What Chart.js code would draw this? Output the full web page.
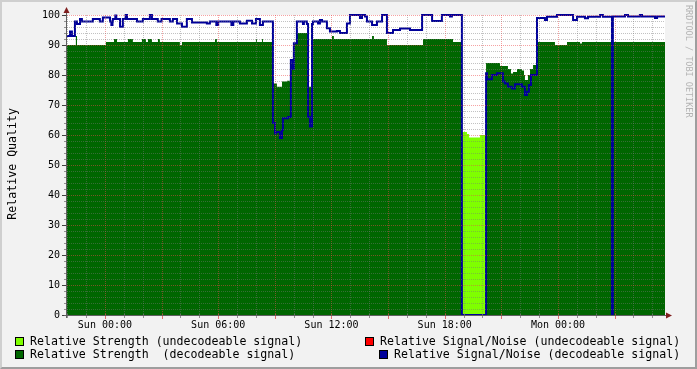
<!DOCTYPE html>
<html>
<head>
<meta charset="utf-8">
<script src="https://cdn.jsdelivr.net/npm/chart.js@4.4.1/dist/chart.umd.min.js"></script>
<style>
  body { margin: 0; }
  #wrap { position: relative; width: 697px; height: 369px; background: #f2f2f2; overflow: hidden;
          font-family: "DejaVu Sans Mono", monospace; color: #000; }
  #frame { position: absolute; left: 0; top: 0; width: 697px; height: 369px; box-sizing: border-box;
           border-style: solid; border-width: 2px; border-color: #cfcfcf #9e9e9e #9e9e9e #cfcfcf; pointer-events: none; }
  canvas { position: absolute; left: 0; top: 0; }
  .txt { position: absolute; font-size: 11.6px; line-height: 14px; white-space: pre; }
  .box { position: absolute; width: 7px; height: 7px; border: 1px solid #000; }
  #ytitle { position: absolute; left: 5px; top: 108px; font-size: 11.6px; line-height: 14px; white-space: pre;
            writing-mode: vertical-rl; transform: rotate(180deg); }
  #mark { position: absolute; left: 684px; top: 5px; font-size: 8.5px; line-height: 10px; white-space: pre;
          writing-mode: vertical-rl; color: #b4b4b4; }
</style>
</head>
<body>
<div id="wrap">
  <canvas id="chart" width="697" height="369"></canvas>
  <div id="ytitle">Relative Quality</div>
  <div id="mark">RRDTOOL / TOBI OETIKER</div>
  <div class="box" style="left:15px;top:337px;background:#7fff00"></div>
  <div class="txt" style="left:30px;top:334px">Relative Strength (undecodeable signal)</div>
  <div class="box" style="left:15px;top:350px;background:#006600"></div>
  <div class="txt" style="left:30px;top:347px">Relative Strength  (decodeable signal)</div>
  <div class="box" style="left:365px;top:337px;background:#ff0000"></div>
  <div class="txt" style="left:380px;top:334px">Relative Signal/Noise (undecodeable signal)</div>
  <div class="box" style="left:379px;top:350px;background:#000099"></div>
  <div class="txt" style="left:394px;top:347px">Relative Signal/Noise (decodeable signal)</div>
  <div id="frame"></div>
</div>
<script>
// time axis in hours, 0 = Sun 00:00
var xMin = -2.01, xMax = 29.67;
var xTickValues = [0, 6, 12, 18, 24];
var xTickLabels = ['Sun 00:00', 'Sun 06:00', 'Sun 12:00', 'Sun 18:00', 'Mon 00:00'];
var yTickValues = [0, 10, 20, 30, 40, 50, 60, 70, 80, 90, 100];

// relative strength, undecodeable signal (only shows during the outage)
var weakTimes  = [-2.01, 18.91, 19.18, 19.29, 19.87, 20.19, 29.67];
var weakValues = [0, 61, 60.3, 59.2, 60, 0, 0];

// relative strength, decodeable signal
var strongTimes = [-2.01, -1.54, -1.48, 0.05, 0.48, 0.64, 1.22, 1.48, 1.96, 2.17, 2.28, 2.49, 2.81, 2.91,
  3.97, 4.08, 5.83, 5.93, 8.00, 8.05, 8.32, 8.37, 8.90, 9.11, 9.38, 9.64, 9.85, 9.96, 10.01, 10.17,
  10.76, 10.97, 12.03, 12.13, 14.15, 14.25, 14.94, 16.85, 18.44, 18.91, 20.19, 20.93, 21.35, 21.51,
  21.62, 21.83, 22.09, 22.20, 22.25, 22.41, 22.52, 22.68, 22.89, 23.84, 24.48, 25.17, 25.27, 29.67];
var strongValues = [90, 93, 90, 91, 92, 91, 92, 91, 92, 91, 92, 91, 92, 91,
  90, 91, 92, 91, 92, 91, 92, 91, 77.2, 76.1, 77.8, 78.1, 84, 88, 90.6, 94,
  76.1, 92, 93, 92, 93, 92, 90, 92, 91, 0, 84, 83, 82, 80.5,
  81, 82, 81.5, 80, 78.3, 80, 82, 83.3, 91, 90, 91, 90.5, 91, 91];

// relative signal/noise, undecodeable signal (no samples in this period)
var snrWeakTimes  = [];
var snrWeakValues = [];

// relative signal/noise, decodeable signal
var snrTimes = [-2.01, -1.85, -1.75, -1.59, -1.48, -1.32, -1.22, -0.64, -0.27, -0.11, 0.27, 0.34, 0.40, 0.42,
  0.55, 0.60, 0.80, 0.95, 1.10, 1.17, 1.70, 2.01, 2.38, 2.49, 2.80, 3.00, 3.44, 3.60, 3.82, 4.08, 4.34,
  4.61, 5.40, 5.56, 5.90, 6.00, 6.70, 6.80, 7.15, 7.52, 7.79, 8.00, 8.21, 8.37, 8.90, 9.01, 9.06, 9.27,
  9.38, 9.43, 9.70, 9.85, 9.96, 10.01, 10.17, 10.49, 10.54, 10.70, 10.76, 10.86, 10.97, 11.02, 11.29,
  11.39, 11.50, 11.76, 11.92, 12.29, 12.45, 12.82, 12.98, 13.51, 13.62, 13.78, 13.88, 14.15, 14.41,
  14.68, 14.94, 15.26, 15.63, 16.16, 16.80, 17.33, 17.85, 18.28, 18.38, 18.91, 20.19, 20.24, 20.50,
  20.77, 21.09, 21.19, 21.35, 21.56, 21.72, 22.09, 22.25, 22.36, 22.46, 22.57, 22.89, 23.31, 23.42,
  23.95, 24.80, 25.01, 25.43, 25.59, 26.23, 26.38, 26.86, 26.91, 27.55, 27.71, 28.34, 28.45, 29.14,
  29.25, 29.67];
var snrValues = [93, 94.5, 93, 97.8, 97, 98.7, 97.8, 98.7, 97.8, 99.2, 97.8, 96.7, 97.8, 98.7,
  99.8, 98.7, 96.1, 98.7, 100, 98.7, 97.8, 98.7, 100, 98.7, 97.8, 98.7, 97.8, 98.7, 97.2, 96.1, 98.7,
  97.5, 97.2, 97.8, 96.7, 97.8, 96.7, 97.8, 97.2, 98.1, 97.2, 98.7, 96.7, 97.8, 64, 60.5, 61, 59,
  61.7, 65.6, 66, 85, 82, 90.6, 97.8, 97, 97.8, 97, 66, 62.8, 97, 97.8, 97.2,
  98.3, 97.8, 95.6, 94.5, 94.7, 94, 97.2, 100, 99, 100, 99.5, 97.8, 96.7, 97.8,
  100, 94, 95, 95.5, 95, 100, 98, 100, 99.5, 100, 0, 80.6, 78.6, 80,
  80.6, 77.8, 77.2, 76.1, 75.5, 76.9, 76.1, 73.3, 74.4, 76.7, 80, 99, 98.3, 99.4,
  100, 98.3, 99.4, 98.9, 99.4, 100, 99.4, 0, 99.5, 100, 99.5, 100, 99.5, 99,
  99.5, 99.5];

// each value holds from its time until the next sample
function pts(t, v) {
  var out = [];
  for (var i = 0; i < t.length; i++) {
    out.push({ x: t[i], y: v[i] });
  }
  return out;
}

var MINOR = 'rgba(120,120,120,0.45)';
var MAJOR = 'rgba(235,70,70,0.5)';

var rrdLook = {
  id: 'rrdLook',
  beforeDraw: function (chart) {
    var a = chart.chartArea, ctx = chart.ctx;
    ctx.save();
    ctx.fillStyle = '#ffffff';
    ctx.fillRect(a.left, a.top, a.right - a.left, a.bottom - a.top);
    ctx.restore();
  },
  afterDatasetsDraw: function (chart) {
    var a = chart.chartArea, ctx = chart.ctx, xs = chart.scales.x, ys = chart.scales.y;
    ctx.save();
    ctx.lineWidth = 1;
    ctx.setLineDash([1, 1]);
    for (var h = Math.ceil(xs.min); h <= xs.max; h++) {
      var px = Math.round(xs.getPixelForValue(h)) + 0.5;
      ctx.strokeStyle = (h % 3 === 0) ? MAJOR : MINOR;
      ctx.beginPath(); ctx.moveTo(px, a.top); ctx.lineTo(px, a.bottom); ctx.stroke();
    }
    for (var v = 2; v <= 100; v += 2) {
      var py = Math.round(ys.getPixelForValue(v)) + 0.5;
      ctx.strokeStyle = (v % 10 === 0) ? MAJOR : MINOR;
      ctx.beginPath(); ctx.moveTo(a.left, py); ctx.lineTo(a.right, py); ctx.stroke();
    }
    ctx.restore();
  },
  afterDraw: function (chart) {
    var a = chart.chartArea, ctx = chart.ctx, xs = chart.scales.x, ys = chart.scales.y;
    ctx.save();
    ctx.lineWidth = 1;
    // tick marks
    for (var h = Math.ceil(xs.min); h <= xs.max; h++) {
      var px = Math.round(xs.getPixelForValue(h)) + 0.5;
      ctx.strokeStyle = (h % 3 === 0) ? 'rgba(222,79,79,0.8)' : 'rgba(120,120,120,0.8)';
      ctx.beginPath(); ctx.moveTo(px, a.bottom - 1); ctx.lineTo(px, a.bottom + (h % 3 === 0 ? 4 : 3)); ctx.stroke();
    }
    for (var v = 0; v <= 100; v += 2) {
      var py = Math.round(ys.getPixelForValue(v)) + 0.5;
      ctx.strokeStyle = (v % 10 === 0) ? '#404040' : 'rgba(120,120,120,0.8)';
      ctx.beginPath(); ctx.moveTo(a.left - (v % 10 === 0 ? 5 : 3), py); ctx.lineTo(a.left, py); ctx.stroke();
    }
    // axes
    ctx.strokeStyle = '#606060';
    ctx.beginPath();
    ctx.moveTo(a.left - 0.5, a.bottom + 3); ctx.lineTo(a.left - 0.5, a.top - 5);
    ctx.moveTo(a.left - 3, a.bottom + 0.5); ctx.lineTo(a.right + 3, a.bottom + 0.5);
    ctx.stroke();
    // arrows
    ctx.fillStyle = '#801f1f';
    ctx.beginPath();
    ctx.moveTo(a.left - 0.5, a.top - 8); ctx.lineTo(a.left - 3.5, a.top - 2); ctx.lineTo(a.left + 2.5, a.top - 2);
    ctx.closePath(); ctx.fill();
    ctx.beginPath();
    ctx.moveTo(a.right + 7, a.bottom + 0.5); ctx.lineTo(a.right + 1, a.bottom - 2.5); ctx.lineTo(a.right + 1, a.bottom + 3.5);
    ctx.closePath(); ctx.fill();
    ctx.restore();
  }
};

var tickFont = { family: 'DejaVu Sans Mono', size: 10 };

new Chart(document.getElementById('chart').getContext('2d'), {
  type: 'line',
  data: {
    datasets: [
      { label: 'Relative Strength (undecodeable signal)', data: pts(weakTimes, weakValues),
        backgroundColor: '#7fff00', borderWidth: 0, fill: 'origin', stepped: 'before', pointRadius: 0, order: 3 },
      { label: 'Relative Strength  (decodeable signal)', data: pts(strongTimes, strongValues),
        backgroundColor: '#006600', borderWidth: 0, fill: 'origin', stepped: 'before', pointRadius: 0, order: 2 },
      { label: 'Relative Signal/Noise (undecodeable signal)', data: pts(snrWeakTimes, snrWeakValues),
        borderColor: '#ff0000', borderWidth: 2, fill: false, stepped: 'before', pointRadius: 0, order: 1 },
      { label: 'Relative Signal/Noise (decodeable signal)', data: pts(snrTimes, snrValues),
        borderColor: '#000099', borderWidth: 2, fill: false, stepped: 'before', pointRadius: 0, order: 0, clip: 4 }
    ]
  },
  options: {
    responsive: false,
    animation: false,
    devicePixelRatio: 1,
    layout: { padding: { left: 0, top: 15, right: 32, bottom: 0 } },
    plugins: { legend: { display: false }, tooltip: { enabled: false } },
    scales: {
      x: {
        type: 'linear', min: xMin, max: xMax,
        afterFit: function (s) { s.height = 54; },
        afterBuildTicks: function (s) { s.ticks = xTickValues.map(function (v) { return { value: v }; }); },
        grid: { display: false, drawTicks: false }, border: { display: false },
        ticks: { autoSkip: false, maxRotation: 0, padding: 4, font: tickFont, color: '#000',
                 callback: function (v, i) { return xTickLabels[i]; } }
      },
      y: {
        min: 0, max: 100,
        afterFit: function (s) { s.width = 67; },
        afterBuildTicks: function (s) { s.ticks = yTickValues.map(function (v) { return { value: v }; }); },
        grid: { display: false, drawTicks: false }, border: { display: false },
        ticks: { padding: 7, font: tickFont, color: '#000' }
      }
    }
  },
  plugins: [rrdLook]
});
</script>
</body>
</html>
